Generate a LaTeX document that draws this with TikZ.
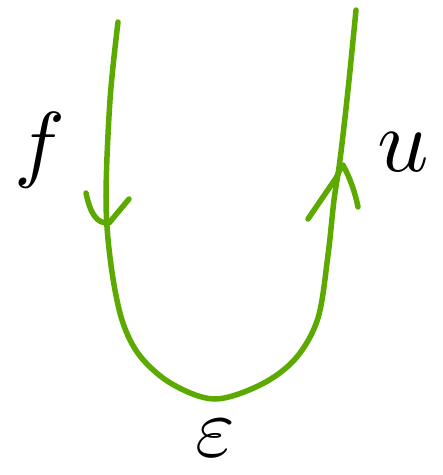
\documentclass[tikz,border=0pt]{standalone}
\usepackage{xcolor}
\definecolor{strand}{RGB}{92,170,0}
\begin{document}
\begin{tikzpicture}[x=1pt,y=-1pt,
  wire/.style={draw=strand,line width=5.5pt,line cap=round,line join=round},
  lbl/.style={inner sep=0pt}]
\useasboundingbox (0,0) rectangle (443,475);
\draw[wire] plot[smooth,tension=0.55] coordinates {(118,22) (110,100) (106,200) (111,265) (122,320) (140,356) (172,384) (215,399) (262,384) (296,358) (318,318) (328,255) (334,200) (340,160) (348,90) (356,10)};
% arrow on left strand (down)
\draw[wire] (86,193) .. controls (90,212) and (96,224) .. (109,223) -- (129,199);
% arrow on right strand (up)
\draw[wire] (308,219) -- (336,178) .. controls (340,170) and (342,165) .. (343,165) .. controls (350,178) and (355,192) .. (358,207);
\node[lbl,scale=8.5] (f) at (40,150) {$f$};
\node[lbl,scale=9] (u) at (403,152) {$u$};
\node[lbl,scale=8.5] (e) at (215,438) {$\varepsilon$};
\end{tikzpicture}
\end{document}
